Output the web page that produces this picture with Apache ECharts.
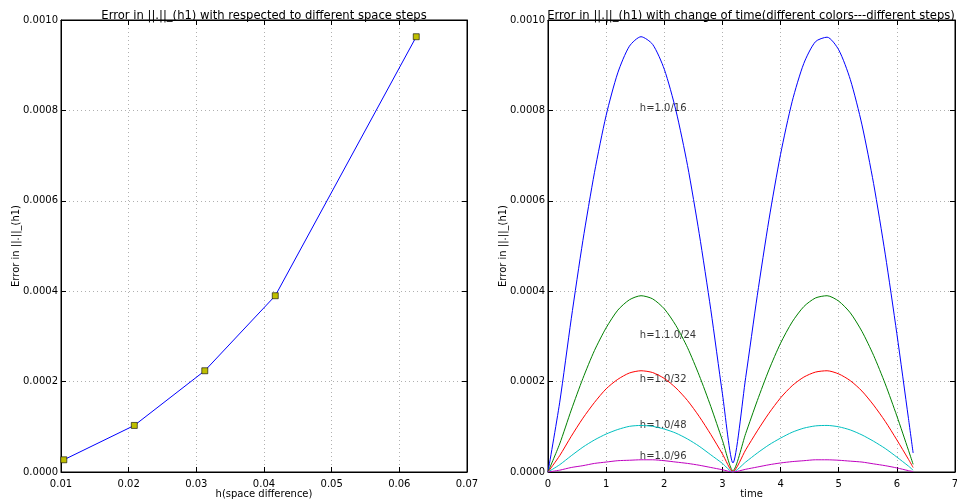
<!DOCTYPE html>
<html>
<head>
    <title>Error in ||.||_(h1)</title>
    <script src="https://cdn.jsdelivr.net/npm/echarts/dist/echarts.min.js"></script>
</head>
<body style="margin:0">
    <div id="main" style="width: 957px; height: 504px;"></div>
    <script>
        // left panel: error vs space step
        var hValues = [1 / 96, 1 / 48, 1 / 32, 1 / 24, 1 / 16];
        var hErrors = [27e-6, 103e-6, 224e-6, 390e-6, 963e-6];

        // right panel: error over time, one series per step
        var timeValues = [0, 0.2, 0.4, 0.6, 0.8, 1.0, 1.2, 1.4, 1.6, 1.8, 2.0, 2.2, 2.4, 2.6, 2.8, 3.0, 3.18,
            3.4, 3.6, 3.8, 4.0, 4.2, 4.4, 4.6, 4.8, 5.0, 5.2, 5.4, 5.6, 5.8, 6.0, 6.2, 6.28];
        var err16 = [0, 153e-6, 339e-6, 512e-6, 663e-6, 789e-6, 883e-6, 942e-6, 963e-6, 946e-6, 891e-6, 800e-6, 678e-6, 528e-6, 359e-6, 173e-6, 20e-6,
            209e-6, 391e-6, 558e-6, 703e-6, 820e-6, 904e-6, 952e-6, 962e-6, 934e-6, 868e-6, 768e-6, 638e-6, 482e-6, 306e-6, 118e-6, 42e-6];
        var err24 = [0, 62e-6, 137e-6, 207e-6, 269e-6, 319e-6, 358e-6, 381e-6, 390e-6, 383e-6, 361e-6, 324e-6, 275e-6, 214e-6, 145e-6, 70e-6, 3e-6,
            85e-6, 158e-6, 226e-6, 285e-6, 332e-6, 366e-6, 385e-6, 390e-6, 378e-6, 352e-6, 311e-6, 258e-6, 195e-6, 124e-6, 48e-6, 17e-6];
        var err32 = [0, 36e-6, 79e-6, 119e-6, 154e-6, 184e-6, 205e-6, 219e-6, 224e-6, 220e-6, 207e-6, 186e-6, 158e-6, 123e-6, 83e-6, 40e-6, 1e-6,
            49e-6, 91e-6, 130e-6, 164e-6, 191e-6, 210e-6, 221e-6, 224e-6, 217e-6, 202e-6, 179e-6, 148e-6, 112e-6, 71e-6, 28e-6, 10e-6];
        var err48 = [0, 16e-6, 36e-6, 55e-6, 71e-6, 84e-6, 94e-6, 101e-6, 103e-6, 101e-6, 95e-6, 86e-6, 73e-6, 57e-6, 38e-6, 19e-6, 0,
            22e-6, 42e-6, 60e-6, 75e-6, 88e-6, 97e-6, 102e-6, 103e-6, 100e-6, 93e-6, 82e-6, 68e-6, 52e-6, 33e-6, 13e-6, 4e-6];
        var err96 = [0, 4e-6, 10e-6, 14e-6, 19e-6, 22e-6, 25e-6, 26e-6, 27e-6, 27e-6, 25e-6, 22e-6, 19e-6, 15e-6, 10e-6, 5e-6, 0,
            6e-6, 11e-6, 16e-6, 20e-6, 23e-6, 25e-6, 27e-6, 27e-6, 26e-6, 24e-6, 22e-6, 18e-6, 14e-6, 9e-6, 3e-6, 1e-6];

        var curveNames = ['1/16', '1/24', '1/32', '1/48', '1/96'];
        var curveColors = ['#0000ff', '#008000', '#ff0000', '#00bfbf', '#bf00bf'];
        var curveData = [err16, err24, err32, err48, err96];

        // text annotations on the right panel
        var noteTexts = ['h=1.0/16', 'h=1.1.0/24', 'h=1.0/32', 'h=1.0/48', 'h=1.0/96'];
        var noteX = [1.58, 1.58, 1.58, 1.58, 1.58];
        var noteY = [805e-6, 303e-6, 204e-6, 104e-6, 35e-6];

        var font = 'DejaVu Sans';
        var chart = echarts.init(document.getElementById('main'));

        function zip(xs, ys) {
            return xs.map(function (x, i) { return [x, ys[i]]; });
        }

        function valueAxis(gridIndex, pos, extra) {
            var ax = {
                type: 'value',
                gridIndex: gridIndex,
                position: pos,
                nameMoveOverlap: false,
                axisLine: { show: true, onZero: false, lineStyle: { color: '#000', width: 1 } },
                axisTick: { show: true, inside: true, length: 5, lineStyle: { color: '#000' } },
                axisLabel: { show: true, color: '#000', fontFamily: font, fontSize: 10 },
                splitLine: { show: false }
            };
            return Object.assign(ax, extra);
        }

        var yName = 'Error in ||.||_(h1)';
        var nameStyle = { color: '#000', fontFamily: font, fontSize: 10 };
        var xTickStyle = { color: '#000', fontFamily: font, fontSize: 10, margin: 2 };
        var yTickStyle = { color: '#000', fontFamily: font, fontSize: 10, margin: 3 };
        var dotted = { show: true, lineStyle: { color: '#b0b0b0', type: [1, 3], width: 1 } };

        var xAxes = [
            valueAxis(0, 'bottom', { min: 0.01, max: 0.07, interval: 0.01, name: 'h(space difference)', nameLocation: 'middle', nameGap: 12, nameTextStyle: nameStyle,
                axisLabel: Object.assign({ formatter: function (v) { return v.toFixed(2); } }, xTickStyle), splitLine: dotted }),
            valueAxis(0, 'top', { min: 0.01, max: 0.07, interval: 0.01, axisLabel: { show: false } }),
            valueAxis(1, 'bottom', { min: 0, max: 7, interval: 1, name: 'time', nameLocation: 'middle', nameGap: 12, nameTextStyle: nameStyle,
                axisLabel: xTickStyle, splitLine: dotted }),
            valueAxis(1, 'top', { min: 0, max: 7, interval: 1, axisLabel: { show: false } })
        ];
        var yAxes = [
            valueAxis(0, 'left', { min: 0, max: 0.001, interval: 0.0002, name: yName, nameLocation: 'middle', nameGap: 35, nameTextStyle: nameStyle,
                axisLabel: Object.assign({ formatter: function (v) { return v.toFixed(4); } }, yTickStyle), splitLine: dotted }),
            valueAxis(0, 'right', { min: 0, max: 0.001, interval: 0.0002, axisLabel: { show: false } }),
            valueAxis(1, 'left', { min: 0, max: 0.001, interval: 0.0002, name: yName, nameLocation: 'middle', nameGap: 35, nameTextStyle: nameStyle,
                axisLabel: Object.assign({ formatter: function (v) { return v.toFixed(4); } }, yTickStyle), splitLine: dotted }),
            valueAxis(1, 'right', { min: 0, max: 0.001, interval: 0.0002, axisLabel: { show: false } })
        ];

        var series = [{
            type: 'line',
            xAxisIndex: 0,
            yAxisIndex: 0,
            data: zip(hValues, hErrors),
            lineStyle: { color: '#0000ff', width: 1 },
            symbol: 'rect',
            symbolSize: 6,
            itemStyle: { color: '#bfbf00', borderColor: '#000', borderWidth: 0.6 },
            animation: false
        }];

        curveData.forEach(function (vals, i) {
            series.push({
                name: curveNames[i],
                type: 'line',
                xAxisIndex: 2,
                yAxisIndex: 2,
                data: zip(timeValues, vals),
                showSymbol: false,
                smooth: 0.25,
                lineStyle: { color: curveColors[i], width: 1 },
                animation: false
            });
        });

        series.push({
            type: 'scatter',
            xAxisIndex: 2,
            yAxisIndex: 2,
            symbolSize: 0,
            data: noteX.map(function (x, i) { return { value: [x, noteY[i]], name: noteTexts[i] }; }),
            label: {
                show: true,
                position: 'right',
                distance: 0,
                formatter: '{b}',
                color: '#000',
                fontFamily: font,
                fontSize: 10
            },
            animation: false
        });

        var titleStyle = { fontFamily: font, fontSize: 11.6, fontWeight: 'normal', color: '#000' };
        var option = {
            backgroundColor: '#fff',
            title: [
                { text: 'Error in ||.||_(h1) with respected to different space steps', left: 264, top: 4, padding: 0, textAlign: 'center', textStyle: titleStyle },
                { text: 'Error in ||.||_(h1) with change of time(different colors---different steps)', left: 751, top: 4, padding: 0, textAlign: 'center', textStyle: titleStyle }
            ],
            grid: [
                { left: 61, right: 490, top: 20, bottom: 32, outerBoundsMode: 'none', containLabel: false, show: true, borderColor: '#000', borderWidth: 1 },
                { left: 548, right: 2, top: 20, bottom: 32, outerBoundsMode: 'none', containLabel: false, show: true, borderColor: '#000', borderWidth: 1 }
            ],
            xAxis: xAxes,
            yAxis: yAxes,
            series: series
        };

        chart.setOption(option);
    </script>
</body>
</html>
